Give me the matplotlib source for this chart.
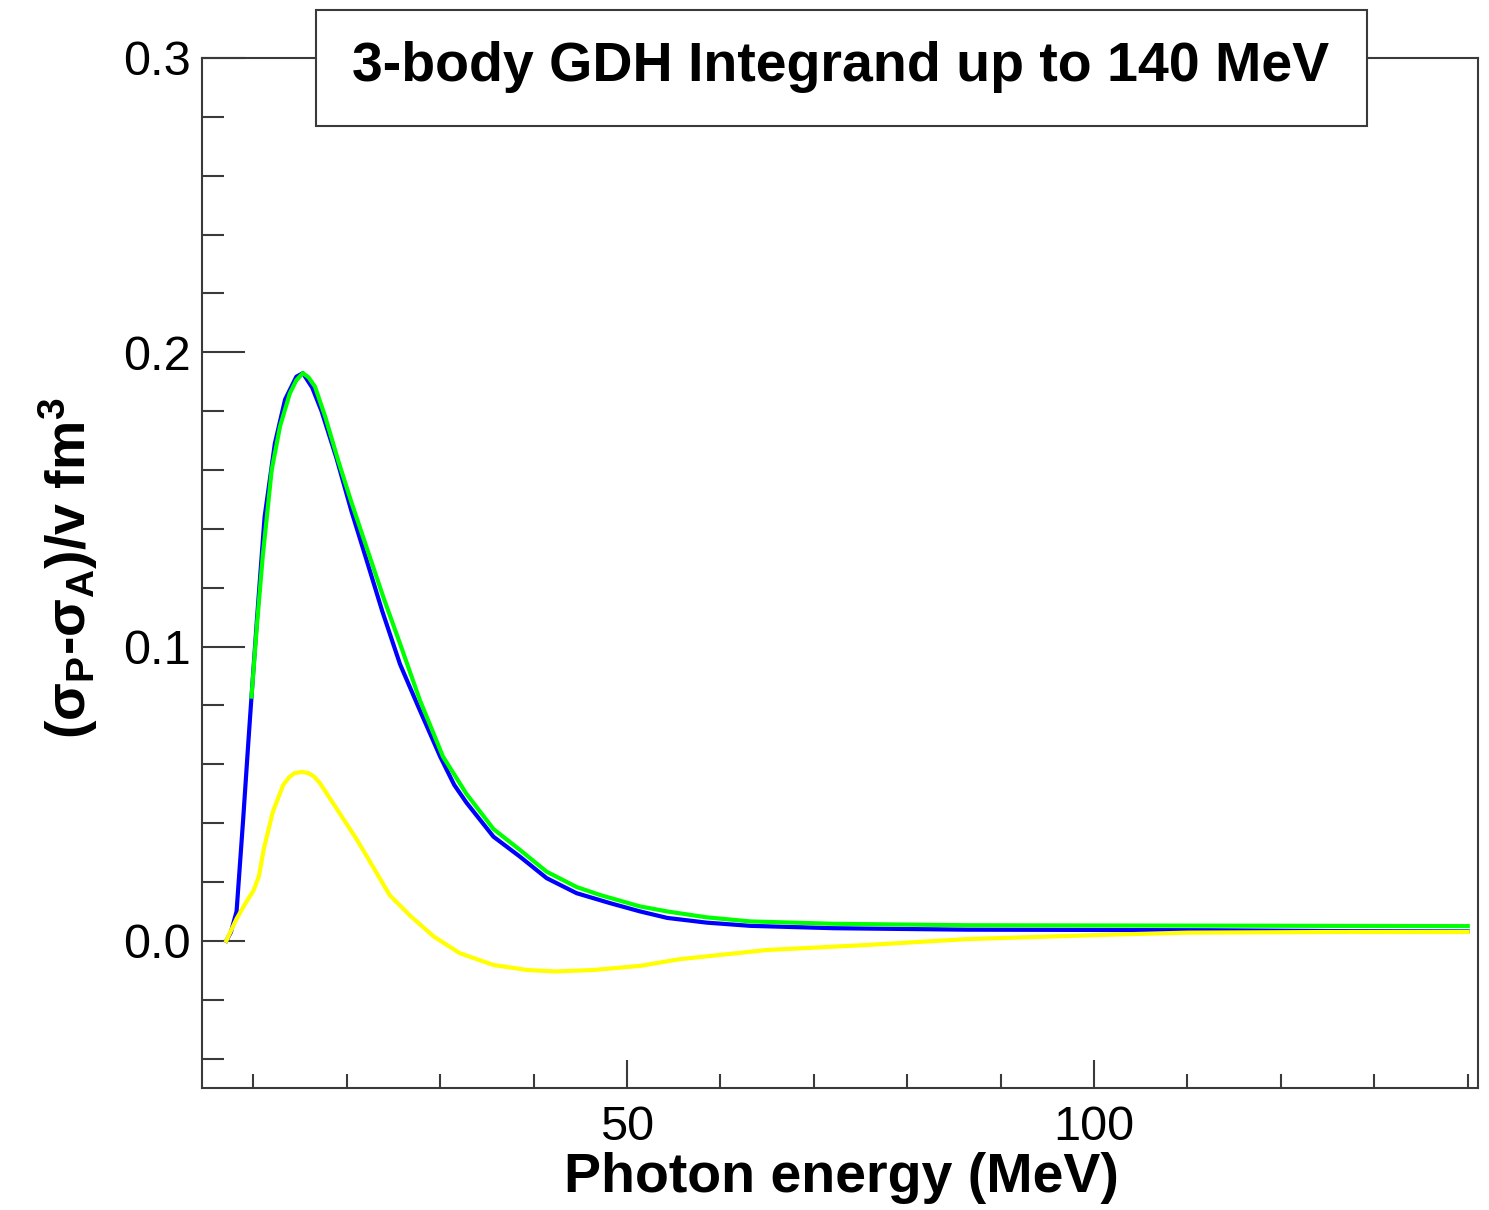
import matplotlib
matplotlib.use('Agg')
import matplotlib.pyplot as plt
from matplotlib.patches import Rectangle
from matplotlib.ticker import MultipleLocator, FixedLocator
import numpy as np

plt.rcParams['font.family'] = ['Liberation Sans', 'DejaVu Sans']
plt.rcParams['mathtext.fontset'] = 'custom'
plt.rcParams['mathtext.rm'] = 'Liberation Sans:bold'
plt.rcParams['mathtext.bf'] = 'Liberation Sans:bold'
plt.rcParams['mathtext.it'] = 'Liberation Sans:bold'

title = '3-body GDH Integrand up to 140 MeV'
xlabel = 'Photon energy (MeV)'
ylabel = r'(σ$_{\mathrm{P}}$-σ$_{\mathrm{A}}$)/v fm$^{\mathrm{3}}$'

# blue curve
e_blue = [7.1, 7.6, 8.2, 8.9, 9.45, 9.8, 10.4, 11.2, 12.3, 13.4, 14.6, 15.3, 16.3, 17.3,
          18.9, 20.5, 22.0, 23.8, 25.7, 27.8, 30.0, 31.5, 32.8, 35.7, 38.5, 41.4, 44.6,
          48.2, 51.4, 54.3, 58.5, 63.2, 72.1, 86.4, 100.6, 112.4, 127.4, 140.0]
v_blue = [0.0, 0.003, 0.010, 0.041, 0.067, 0.083, 0.110, 0.144, 0.169, 0.184, 0.1917,
          0.1929, 0.188, 0.180, 0.164, 0.146, 0.1306, 0.112, 0.094, 0.0785, 0.0626, 0.053,
          0.047, 0.0354, 0.0287, 0.0213, 0.0162, 0.0128, 0.010, 0.0078, 0.0062, 0.0051,
          0.0043, 0.0038, 0.0037, 0.0036, 0.0033, 0.0032]

# green curve
e_green = [9.8, 10.4, 11.0, 11.96, 12.85, 13.9, 14.6, 15.3, 15.9, 16.6, 17.7, 19.1, 20.5,
           22.3, 24.0, 25.7, 27.8, 30.3, 32.8, 35.7, 38.5, 41.4, 44.6, 47.1, 51.4, 54.3,
           58.5, 63.2, 72.1, 86.4, 104.9, 140.0]
v_green = [0.083, 0.108, 0.1306, 0.160, 0.1748, 0.186, 0.1905, 0.1929, 0.1915, 0.1883,
           0.178, 0.163, 0.149, 0.132, 0.116, 0.101, 0.082, 0.0626, 0.050, 0.038, 0.031,
           0.0235, 0.0183, 0.0156, 0.0117, 0.0100, 0.0080, 0.0066, 0.0058, 0.0053, 0.0052,
           0.0050]

# yellow curve
e_yellow = [7.1, 8.2, 9.2, 10.0, 10.6, 11.1, 12.1, 13.2, 13.8, 14.4, 15.2, 15.9, 16.5,
            17.1, 18.9, 21.1, 22.8, 24.6, 26.8, 29.3, 32.1, 35.7, 39.3, 42.3, 46.4, 51.4,
            55.7, 65.0, 75.7, 86.4, 100.6, 110.0, 125.0, 140.0]
v_yellow = [0.0, 0.0075, 0.013, 0.017, 0.022, 0.031, 0.044, 0.053, 0.0555, 0.0570, 0.0574,
            0.0570, 0.0558, 0.0537, 0.0450, 0.0343, 0.0252, 0.0155, 0.0085, 0.0015,
            -0.0042, -0.0082, -0.0099, -0.0104, -0.0099, -0.0085, -0.0062, -0.0031,
            -0.0014, 0.0006, 0.0020, 0.0028, 0.0030, 0.0030]

W, H = 1489, 1210
fig = plt.figure(figsize=(W / 100, H / 100), dpi=100)
ax = fig.add_axes([202 / W, 1 - 1088 / H, (1478 - 202) / W, (1088 - 58) / H])

lw = 3.0
ax.plot(e_blue, v_blue, color='#0000ff', lw=lw, solid_joinstyle='round')
ax.plot(e_green, v_green, color='#00ff00', lw=lw, solid_joinstyle='round')
ax.plot(e_yellow, v_yellow, color='#ffff00', lw=lw, solid_joinstyle='round')

ax.set_xlim(4.5, 141.1)
ax.set_ylim(-0.05, 0.3)

frame_col = '#3a3a3a'
for s in ax.spines.values():
    s.set_color(frame_col)
    s.set_linewidth(1.5)

ax.xaxis.set_major_locator(FixedLocator([50, 100]))
ax.xaxis.set_minor_locator(MultipleLocator(10))
ax.yaxis.set_major_locator(MultipleLocator(0.1))
ax.yaxis.set_minor_locator(MultipleLocator(0.02))
ax.yaxis.set_major_formatter(matplotlib.ticker.FormatStrFormatter('%.1f'))

ax.tick_params(axis='x', which='major', direction='in', length=20, width=1.5,
               color=frame_col, labelsize=35, pad=12)
ax.tick_params(axis='x', which='minor', direction='in', length=10, width=1.5, color=frame_col)
ax.tick_params(axis='y', which='major', direction='in', length=31, width=1.5,
               color=frame_col, labelsize=35, pad=8)
ax.tick_params(axis='y', which='minor', direction='in', length=16, width=1.5, color=frame_col)

fig.text(841 / W, 1 - 1192 / H, xlabel, ha='center', va='baseline',
         fontsize=40, fontweight='bold')
fig.text(68 / W, 1 - 568 / H, ylabel, ha='center', va='center', rotation=90,
         fontsize=40, fontweight='bold')

# title box
fig.patches.append(Rectangle((316 / W, 1 - 126 / H), (1367 - 316) / W, (126 - 10) / H,
                             transform=fig.transFigure, facecolor='white',
                             edgecolor=frame_col, linewidth=1.5, zorder=5))
fig.text(841 / W, 1 - 67 / H, title, ha='center', va='center', fontsize=40,
         fontweight='bold', zorder=6)

fig.savefig('out.png', dpi=100)
